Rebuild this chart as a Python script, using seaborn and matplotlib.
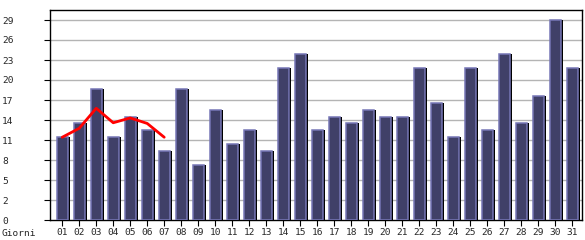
import matplotlib
matplotlib.use("Agg")
import matplotlib.pyplot as plt
import matplotlib.patheffects as pe
import seaborn as sns
import pandas as pd
import numpy as np

days = [f"{d:02d}" for d in range(1, 32)]
visits = [12, 14, 19, 12, 15, 13, 10, 19, 8, 16, 11, 13, 10, 22, 24,
          13, 15, 14, 16, 15, 15, 22, 17, 12, 22, 13, 24, 14, 18, 29, 22]
trend_days = ["01", "02", "03", "04", "05", "06", "07"]
trend_vals = [12.0, 13.3, 16.2, 14.1, 14.8, 14.0, 12.0]
ytick_vals = [0, 2.9, 5.8, 8.7, 11.6, 14.5, 17.4, 20.3, 23.2, 26.1, 29.0]
ytick_labels = ["0", "2", "5", "8", "11", "14", "17", "20", "23", "26", "29"]

sns.set_style("white")
plt.rcParams["font.family"] = ["DejaVu Sans Mono"]

fig = plt.figure(figsize=(5.85, 2.4), dpi=100)
ax = fig.add_axes([50 / 585, 20 / 240, 532 / 585, 210 / 240])

df = pd.DataFrame({"day": days, "visits": visits})
sns.barplot(data=df, x="day", y="visits", ax=ax, color="#404068",
            saturation=1, width=0.66, edgecolor="#7676b6", linewidth=1.1, zorder=3)
for p in ax.patches:
    p.set_path_effects([pe.SimplePatchShadow(offset=(1.8, 0), shadow_rgbFace="black", alpha=1.0),
                        pe.Normal()])

tdf = pd.DataFrame({"day": trend_days, "v": trend_vals})
sns.lineplot(data=tdf, x="day", y="v", ax=ax, color="#ff0000", linewidth=2, zorder=5, sort=False)

ax.set_xlim(-0.72, 30.58)
ax.set_ylim(0, 30.45)
ax.set_yticks(ytick_vals)
ax.set_yticklabels(ytick_labels)
for v in ytick_vals[1:]:
    ax.axhline(v, color="#b4b4b4", linewidth=1, zorder=1)

ax.tick_params(axis="y", length=4.3, width=0.8, color="black", labelsize=6.8, pad=30.2)
for lab in ax.get_yticklabels():
    lab.set_horizontalalignment("left")
ax.tick_params(axis="x", length=4.3, width=0.8, color="black", labelsize=6.8, pad=1.5)
ax.tick_params(axis="both", direction="out", bottom=True, left=True)

ax.set_xlabel("")
ax.set_ylabel("")
for s in ax.spines.values():
    s.set_color("black")
    s.set_linewidth(1)

fig.text(2 / 585, 1 - 233 / 240, "Giorni", fontsize=6.8, ha="left", va="center",
         family="DejaVu Sans Mono")

fig.savefig("out.png", dpi=100)
